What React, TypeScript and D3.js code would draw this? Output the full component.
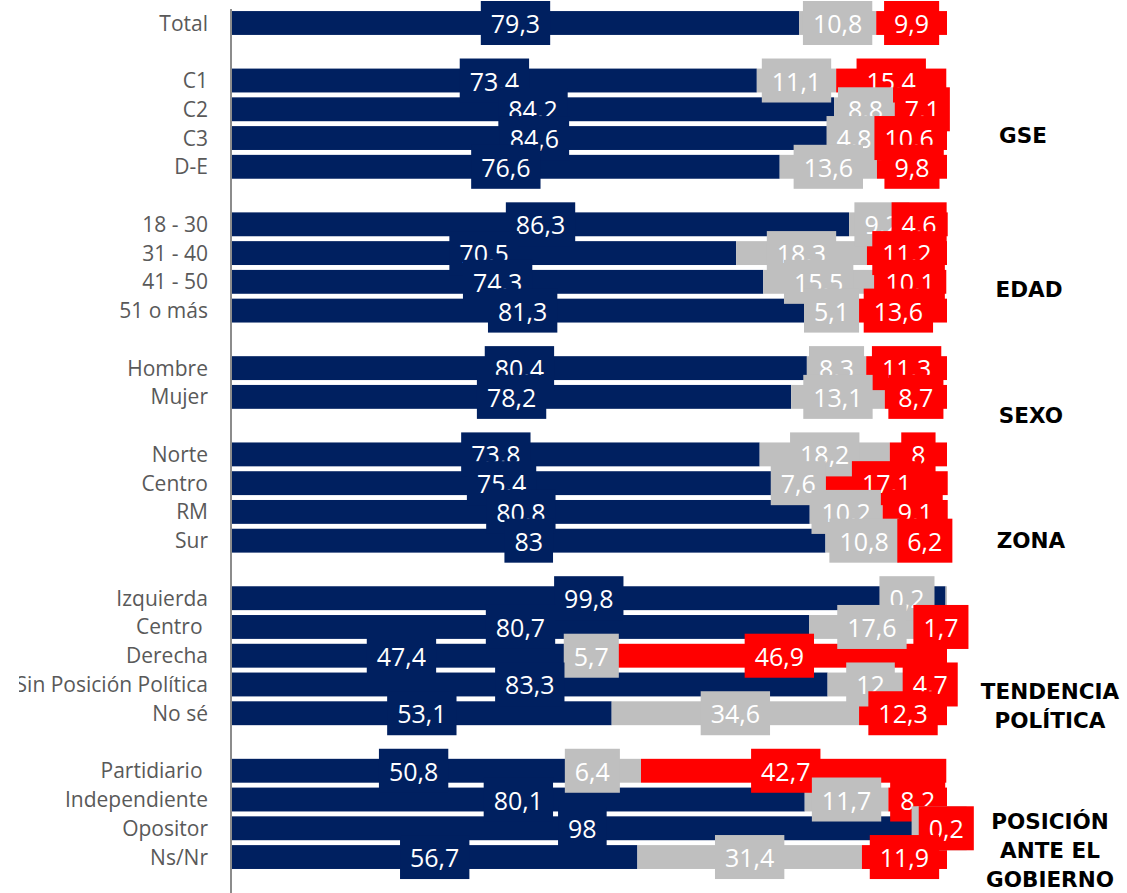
import * as React from 'react';
import { select, scaleBand, scaleLinear, stack } from 'd3';

// rows top to bottom, '' marks the empty row between groups
const categories = ['Total', '', 'C1', 'C2', 'C3', 'D-E', '', '18 - 30', '31 - 40', '41 - 50', '51 o más', '',
    'Hombre', 'Mujer', '', 'Norte', 'Centro', 'RM', 'Sur', '',
    'Izquierda', 'Centro ', 'Derecha', 'Sin Posición Política', 'No sé', '',
    'Partidiario ', 'Independiente', 'Opositor', 'Ns/Nr'];

const blueValues = [79.3, null, 73.4, 84.2, 84.6, 76.6, null, 86.3, 70.5, 74.3, 81.3, null,
    80.4, 78.2, null, 73.8, 75.4, 80.8, 83, null,
    99.8, 80.7, 47.4, 83.3, 53.1, null,
    50.8, 80.1, 98, 56.7];

const greyValues = [10.8, null, 11.1, 8.8, 4.8, 13.6, null, 9.2, 18.3, 15.5, 5.1, null,
    8.3, 13.1, null, 18.2, 7.6, 10.2, 10.8, null,
    0.2, 17.6, 5.7, 12, 34.6, null,
    6.4, 11.7, 1.8, 31.4];

const redValues = [9.9, null, 15.4, 7.1, 10.6, 9.8, null, 4.6, 11.2, 10.1, 13.6, null,
    11.3, 8.7, null, 8, 17.1, 9.1, 6.2, null,
    0, 1.7, 46.9, 4.7, 12.3, null,
    42.7, 8.2, 0.2, 11.9];

const groupTitles = [
    { lines: ['GSE'], at: 3.9, x: 1023 },
    { lines: ['EDAD'], at: 9.25, x: 1029 },
    { lines: ['SEXO'], at: 13.66, x: 1031 },
    { lines: ['ZONA'], at: 17.98, x: 1031 },
    { lines: ['TENDENCIA', 'POLÍTICA'], at: 23.23, x: 1050 },
    { lines: ['POSICIÓN', 'ANTE EL', 'GOBIERNO'], at: 27.78, x: 1050 },
];

// some labels were dragged by hand in the original (shift in value units)
const labelNudge: { [k: string]: number } = {
    '7-red': -1.7,
    '20-grey': -5.5,
    '26-grey': -3.6,
    '26-red': -1.1,
};

const keys = ['blue', 'grey', 'red'];
const colors: { [k: string]: string } = { blue: '#002060', grey: '#BFBFBF', red: '#FF0000' };

interface IRow {
    idx: string;
    blue: number;
    grey: number;
    red: number;
}

const fmt = (v: number) => String(v).replace('.', ',');

export default class App extends React.Component<{}, {}> {
    node: SVGSVGElement | null = null;

    componentDidMount() {
        const svg = select(this.node);
        svg.selectAll('*').remove();

        const width = 1127;
        const height = 893;
        const step = 28.76;
        const top = 23 - step / 2;

        const rows: IRow[] = categories.map((c, i) => ({
            idx: String(i),
            blue: blueValues[i] || 0,
            grey: greyValues[i] || 0,
            red: redValues[i] || 0,
        }));

        const y = scaleBand<string>()
            .domain(rows.map((r) => r.idx))
            .range([top, top + step * rows.length])
            .paddingInner(0.17)
            .paddingOuter(0.085);
        const x = scaleLinear().domain([0, 100]).range([232, 947]);
        const bw = y.bandwidth();
        const cy = (i: number) => (y(String(i)) as number) + bw / 2;
        const rowY = scaleLinear().domain([0, rows.length - 1]).range([cy(0), cy(rows.length - 1)]);

        const series = stack<IRow>().keys(keys)(rows);

        svg.append('rect').attr('width', width).attr('height', height).attr('fill', '#fff');

        // category labels, clipped on the left like the original
        svg.append('clipPath').attr('id', 'catclip')
            .append('rect').attr('x', 19).attr('y', 0).attr('width', 220).attr('height', height);

        svg.append('g')
            .attr('clip-path', 'url(#catclip)')
            .selectAll('text')
            .data(categories)
            .join('text')
            .attr('x', 208)
            .attr('y', (d, i) => cy(i) + 7.5)
            .attr('text-anchor', 'end')
            .attr('font-family', '"Open Sans", sans-serif')
            .attr('font-size', 21)
            .attr('fill', '#595959')
            .style('white-space', 'pre')
            .text((d) => d);

        // bars
        series.forEach((s) => {
            svg.append('g')
                .attr('fill', colors[s.key])
                .selectAll('rect')
                .data(s.filter((d) => categories[+d.data.idx] !== '' && d[1] > d[0]))
                .join('rect')
                .attr('x', (d) => x(d[0]))
                .attr('y', (d) => y(d.data.idx) as number)
                .attr('width', (d) => x(d[1]) - x(d[0]))
                .attr('height', bw);
        });

        // vertical axis line
        svg.append('line')
            .attr('x1', 231).attr('x2', 231)
            .attr('y1', 9).attr('y2', height)
            .attr('stroke', '#8c8c8c')
            .attr('stroke-width', 2);

        // data labels with filled boxes, row by row so later rows sit on top
        const labels = svg.append('g')
            .attr('font-family', '"Open Sans", sans-serif')
            .attr('font-size', 25);

        rows.forEach((r, i) => {
            if (categories[i] === '') return;
            series.forEach((s) => {
                const d = s[i];
                const v = (r as any)[s.key] as number;
                if (!v) return;
                const nudge = labelNudge[`${i}-${s.key}`] || 0;
                const mx = x((d[0] + d[1]) / 2 + nudge);
                const g = labels.append('g');
                const box = g.append('rect').attr('fill', colors[s.key]);
                const t = g.append('text')
                    .attr('x', mx)
                    .attr('y', cy(i) + 10)
                    .attr('text-anchor', 'middle')
                    .attr('fill', '#fff')
                    .text(fmt(v));
                const tw = (t.node() as SVGTextElement).getComputedTextLength();
                const boxW = tw + 20;
                box.attr('x', mx - boxW / 2)
                    .attr('y', cy(i) - 22)
                    .attr('width', boxW)
                    .attr('height', 44);
            });
        });

        // group titles on the right
        const titles = svg.append('g')
            .attr('font-family', '"DejaVu Sans", sans-serif')
            .attr('font-weight', 'bold')
            .attr('font-size', 21.5)
            .attr('fill', '#000')
            .attr('text-anchor', 'middle');

        groupTitles.forEach((gt) => {
            gt.lines.forEach((line, k) => {
                titles.append('text')
                    .attr('x', gt.x)
                    .attr('y', rowY(gt.at) + k * 29 + 7.5)
                    .text(line);
            });
        });
    }

    render() {
        return (
            <svg
                ref={(node) => { this.node = node; }}
                width={1127}
                height={893}
                style={{ position: 'absolute', left: 0, top: 0 }}
            />
        );
    }
}
